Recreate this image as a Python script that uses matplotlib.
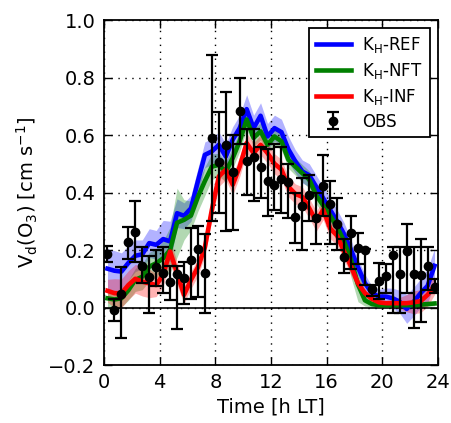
import numpy as np
import matplotlib
matplotlib.use("Agg")
import matplotlib.pyplot as plt

plt.rcParams['font.family'] = ['DejaVu Sans']
plt.rcParams['mathtext.default'] = 'regular'

# ---------------------------------------------------------------------------
# data (half-hourly diurnal cycle, centred on the half hour)
# ---------------------------------------------------------------------------
hours = [0.25, 0.75, 1.25, 1.75, 2.25, 2.75, 3.25, 3.75, 4.25, 4.75, 5.25, 5.75,
         6.25, 6.75, 7.25, 7.75, 8.25, 8.75, 9.25, 9.75, 10.25, 10.75, 11.25, 11.75,
         12.25, 12.75, 13.25, 13.75, 14.25, 14.75, 15.25, 15.75, 16.25, 16.75, 17.25, 17.75,
         18.25, 18.75, 19.25, 19.75, 20.25, 20.75, 21.25, 21.75, 22.25, 22.75, 23.25, 23.75]

vd_ref = [0.135, 0.128, 0.125, 0.155, 0.18, 0.185, 0.224, 0.218, 0.238, 0.23, 0.328, 0.319,
          0.345, 0.44, 0.531, 0.543, 0.566, 0.525, 0.584, 0.624, 0.69, 0.624, 0.667, 0.595,
          0.624, 0.61, 0.55, 0.508, 0.473, 0.46, 0.42, 0.38, 0.34, 0.30, 0.255, 0.20,
          0.14, 0.085, 0.05, 0.038, 0.038, 0.032, 0.02, -0.005, 0.02, 0.05, 0.075, 0.145]
vd_nft = [0.032, 0.028, 0.032, 0.06, 0.096, 0.107, 0.142, 0.154, 0.171, 0.20, 0.295, 0.305,
          0.32, 0.385, 0.44, 0.49, 0.496, 0.473, 0.52, 0.578, 0.654, 0.59, 0.613, 0.566,
          0.595, 0.578, 0.514, 0.49, 0.467, 0.445, 0.39, 0.355, 0.32, 0.28, 0.23, 0.165,
          0.08, 0.025, 0.012, 0.008, 0.008, 0.008, 0.008, 0.008, 0.008, 0.01, 0.012, 0.014]
vd_inf = [0.058, 0.05, 0.049, 0.078, 0.10, 0.09, 0.084, 0.078, 0.115, 0.195, 0.119, 0.044,
          0.096, 0.14, 0.21, 0.34, 0.456, 0.479, 0.427, 0.49, 0.572, 0.537, 0.566, 0.537,
          0.50, 0.48, 0.42, 0.395, 0.385, 0.345, 0.30, 0.34, 0.275, 0.25, 0.195, 0.143,
          0.084, 0.05, 0.03, 0.018, 0.015, 0.015, 0.015, 0.015, 0.018, 0.022, 0.044, 0.075]

# spread of the model runs (half width of shaded band)
sd_ref = [0.07, 0.07, 0.065, 0.06, 0.055, 0.05, 0.05, 0.05, 0.065, 0.07, 0.05, 0.045,
          0.045, 0.045, 0.045, 0.045, 0.045, 0.045, 0.045, 0.045, 0.05, 0.045, 0.045, 0.045,
          0.045, 0.045, 0.045, 0.04, 0.04, 0.04, 0.04, 0.04, 0.04, 0.04, 0.04, 0.035,
          0.03, 0.03, 0.025, 0.025, 0.03, 0.035, 0.04, 0.05, 0.05, 0.05, 0.06, 0.06]
sd_nft = [0.03, 0.03, 0.03, 0.035, 0.04, 0.045, 0.05, 0.05, 0.06, 0.08, 0.12, 0.07,
          0.05, 0.05, 0.05, 0.045, 0.04, 0.035, 0.035, 0.035, 0.035, 0.03, 0.03, 0.03,
          0.03, 0.03, 0.03, 0.03, 0.03, 0.03, 0.03, 0.03, 0.03, 0.03, 0.04, 0.06,
          0.06, 0.02, 0.01, 0.008, 0.008, 0.008, 0.008, 0.008, 0.008, 0.008, 0.008, 0.008]
sd_inf = [0.04, 0.05, 0.05, 0.05, 0.05, 0.05, 0.05, 0.04, 0.04, 0.04, 0.04, 0.03,
          0.03, 0.03, 0.03, 0.035, 0.035, 0.035, 0.035, 0.035, 0.035, 0.035, 0.035, 0.035,
          0.035, 0.035, 0.035, 0.035, 0.035, 0.035, 0.035, 0.035, 0.035, 0.035, 0.03, 0.03,
          0.02, 0.015, 0.01, 0.01, 0.01, 0.015, 0.02, 0.03, 0.04, 0.04, 0.04, 0.03]

# observations: value, bottom and top of the error bar
obs = [0.186, -0.01, 0.047, 0.227, 0.264, 0.146, 0.107, 0.14, 0.121, 0.09, 0.115, 0.104,
       0.165, 0.205, 0.119, 0.589, 0.506, 0.566, 0.473, 0.684, 0.51, 0.522, 0.49, 0.44,
       0.427, 0.447, 0.435, 0.314, 0.353, 0.392, 0.31, 0.421, 0.36, 0.29, 0.175, 0.26,
       0.208, 0.2, 0.063, 0.092, 0.111, 0.184, 0.116, 0.198, 0.118, 0.113, 0.143, 0.072]
obs_lo = [0.16, -0.047, -0.107, 0.17, 0.16, 0.085, -0.018, 0.075, 0.05, 0.025, -0.075, 0.012,
          0.03, 0.037, -0.02, 0.30, 0.33, 0.265, 0.27, 0.57, 0.39, 0.37, 0.38, 0.32,
          0.34, 0.33, 0.31, 0.225, 0.20, 0.30, 0.22, 0.32, 0.22, 0.20, 0.12, 0.135,
          0.15, 0.08, 0.04, 0.03, 0.05, -0.02, -0.02, 0.05, -0.07, -0.05, 0.06, 0.05]
obs_hi = [0.215, 0.03, 0.14, 0.28, 0.372, 0.21, 0.18, 0.20, 0.21, 0.145, 0.145, 0.16,
          0.276, 0.284, 0.255, 0.88, 0.68, 0.75, 0.60, 0.80, 0.62, 0.62, 0.56, 0.55,
          0.57, 0.56, 0.50, 0.40, 0.45, 0.46, 0.40, 0.53, 0.44, 0.38, 0.24, 0.32,
          0.26, 0.205, 0.08, 0.155, 0.15, 0.21, 0.21, 0.29, 0.21, 0.24, 0.21, 0.10]

runs = [("K$_\\mathrm{H}$-REF", vd_ref, sd_ref, "#0000ff"),
        ("K$_\\mathrm{H}$-NFT", vd_nft, sd_nft, "#008000"),
        ("K$_\\mathrm{H}$-INF", vd_inf, sd_inf, "#ff0000")]

# ---------------------------------------------------------------------------
fig = plt.figure(figsize=(4.51, 4.23), dpi=100, facecolor="white")
ax = fig.add_axes([0.2306, 0.1371, 0.7406, 0.8156])

t = np.array(hours)
for label, vals, sd, col in runs:
    v = np.array(vals)
    s = np.array(sd)
    ax.fill_between(t, v - s, v + s, color=col, alpha=0.3, linewidth=0, zorder=1)
for label, vals, sd, col in runs:
    ax.plot(t, vals, color=col, lw=3.3, label=label, zorder=3)

o = np.array(obs)
yerr = [o - np.array(obs_lo), np.array(obs_hi) - o]
ax.errorbar(t, o, yerr=yerr, fmt="o", color="k", ms=6, elinewidth=1.6,
            capsize=4.5, capthick=1.6, label="OBS", zorder=4)

ax.axhline(0, color="k", lw=1.2, zorder=2)

ax.set_xlim(0, 24)
ax.set_ylim(-0.2, 1.0)
ax.set_xticks(np.arange(0, 25, 4))
ax.set_yticks(np.arange(-0.2, 1.01, 0.2))
ax.grid(True, color="k", linestyle=(0, (1, 4)), linewidth=1)
ax.tick_params(direction="in", top=True, right=True, length=6, width=1,
               labelsize=14, pad=6)
for sp in ax.spines.values():
    sp.set_linewidth(1.3)

ax.set_xlabel("Time [h LT]", fontsize=14, labelpad=4)
ax.set_ylabel("V$_\\mathrm{d}$(O$_3$) [cm s$^{-1}$]", fontsize=14, labelpad=6)

leg = ax.legend(loc="upper right", numpoints=1, fontsize=12, fancybox=False,
                framealpha=1, edgecolor="k", handlelength=2.1, handletextpad=0.7,
                borderpad=0.4, labelspacing=0.35, borderaxespad=0.5)
leg.get_frame().set_linewidth(1.3)

fig.savefig("out.png", dpi=100, facecolor="white")
